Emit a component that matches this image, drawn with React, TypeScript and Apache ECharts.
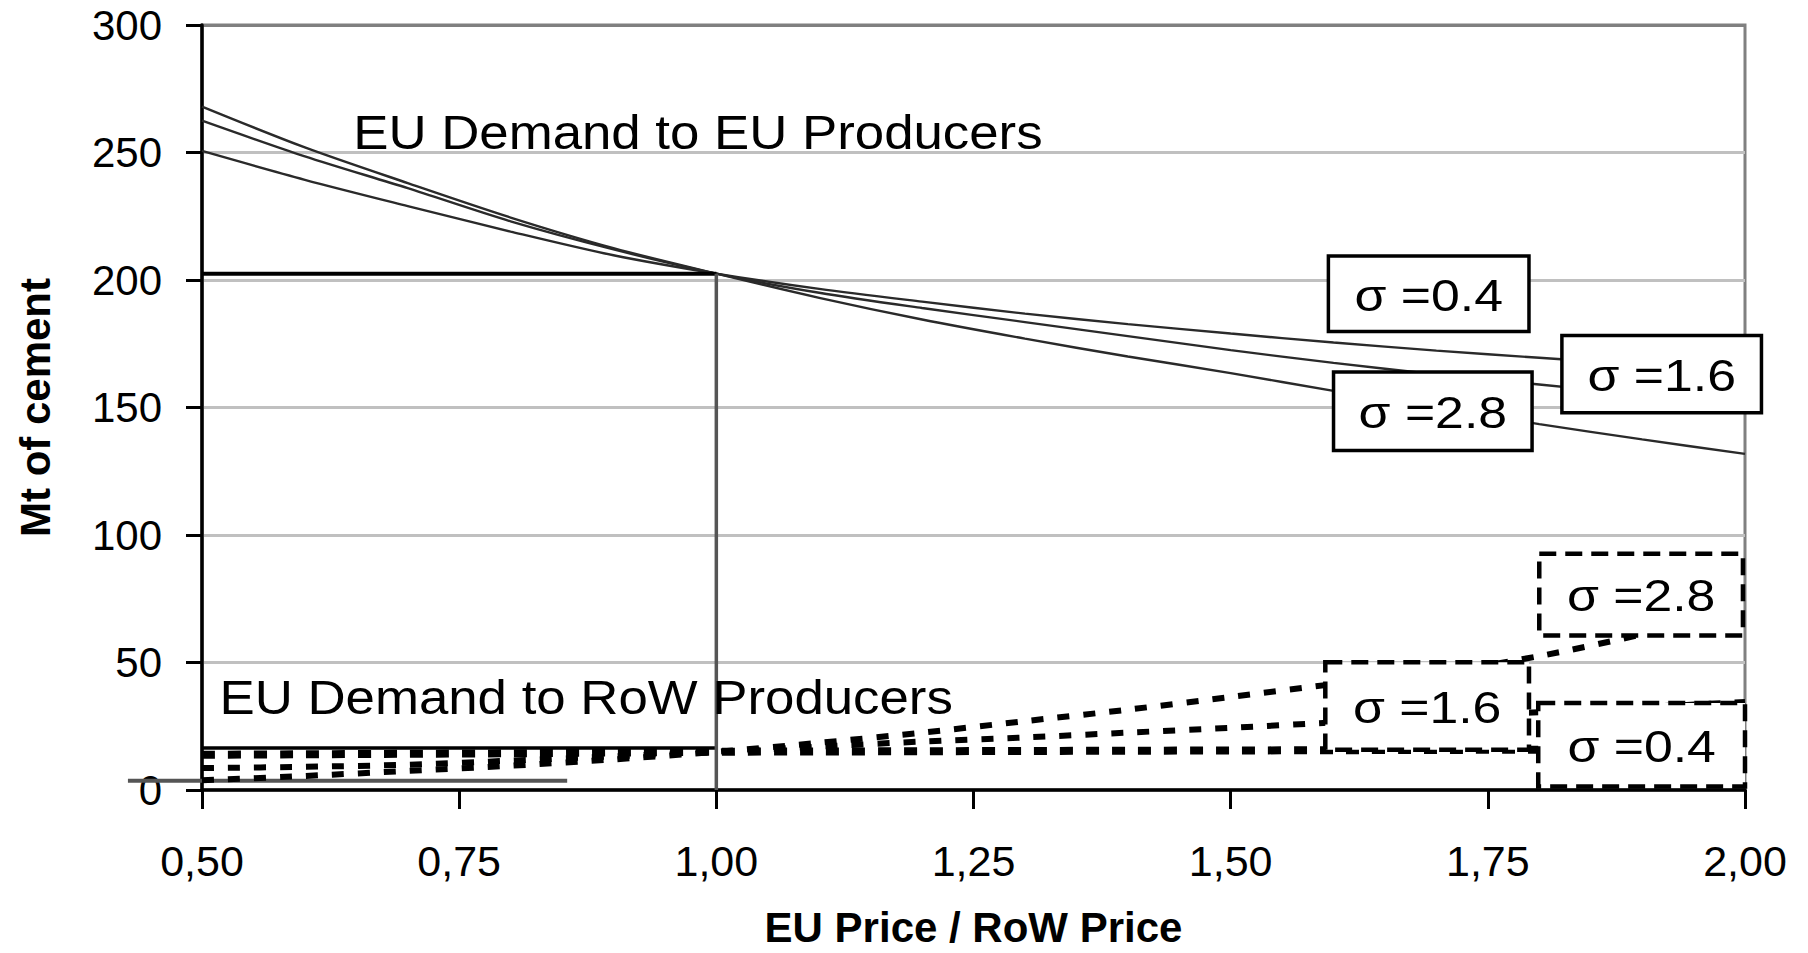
import React, { useEffect, useRef } from "react";
import * as echarts from "echarts";

// ---------- data ----------
const priceRatio = [0.5, 0.6, 0.7, 0.8, 0.9, 1.0, 1.1, 1.2, 1.3, 1.4, 1.5, 1.6, 1.7, 1.8, 1.9, 2.0];

// EU demand to EU producers (Mt)
const euSigma04 = [250.6, 239.3, 229, 219, 209.7, 202.5, 196.5, 191.5, 186.8, 182.7, 179, 175.5, 172.3, 169.5, 166.8, 164.3];
const euSigma16 = [262.5, 248.5, 236, 223, 212, 202.5, 195, 189, 183.5, 178, 172.5, 167.5, 163, 159, 155, 151];
const euSigma28 = [268, 252, 238, 224.5, 212.5, 202.5, 193, 184.5, 177, 170, 163.5, 156.5, 150, 143.5, 137.5, 131.8];

// EU demand to RoW producers (Mt)
const rowSigma04 = [13.8, 14, 14.2, 14.4, 14.7, 15, 15.1, 15.2, 15.3, 15.4, 15.5, 15.6, 15.7, 15.8, 15.9, 16];
const rowSigma16 = [8.6, 9.1, 9.9, 11.5, 13.2, 15, 17, 19, 20.6, 22.5, 24.4, 26.5, 28.5, 30.5, 32.5, 34.5];
const rowSigma28 = [3.8, 5.5, 7.5, 9.5, 12, 15, 18.5, 22.5, 27, 31.5, 36.5, 41.5, 46, 52.5, 61, 70];

// reference point (price ratio 1)
const basePrice = 1.0;
const baseDemandEU = 202.5;
const baseDemandRoW = 16.5;
const strayLineX = [0.428, 0.855];
const strayLineY = 3.6;

// axes
const xTicks = [0.5, 0.75, 1.0, 1.25, 1.5, 1.75, 2.0];
const yTicks = [0, 50, 100, 150, 200, 250, 300];

// annotations (data coordinates)
const curveTitles = [
  { text: "EU Demand to EU Producers", p: 0.647, v: 257.8 },
  { text: "EU Demand to RoW Producers", p: 0.517, v: 36.2 },
];
const sigmaBoxes = [
  { text: "σ =0.4", p0: 1.595, p1: 1.79, v0: 179.8, v1: 209.4, dashed: false },
  { text: "σ =1.6", p0: 1.822, p1: 2.016, v0: 147.9, v1: 178.2, dashed: false },
  { text: "σ =2.8", p0: 1.6, p1: 1.793, v0: 133.1, v1: 163.9, dashed: false },
  { text: "σ =2.8", p0: 1.8, p1: 1.998, v0: 60.6, v1: 92.6, dashed: true },
  { text: "σ =1.6", p0: 1.592, p1: 1.79, v0: 15.8, v1: 50.1, dashed: true },
  { text: "σ =0.4", p0: 1.799, p1: 2.0, v0: 1.4, v1: 34.1, dashed: true },
];

const FONT = "'Liberation Sans', Arial, Helvetica, sans-serif";

const pairs = (ys: number[]) => priceRatio.map((p, i) => [p, ys[i]]);

export default function App() {
  const ref = useRef<HTMLDivElement>(null);

  useEffect(() => {
    document.body.style.margin = "0";
    document.body.style.overflow = "hidden";
    document.documentElement.style.overflow = "hidden";
    if (!ref.current) return;
    const chart = echarts.init(ref.current, null, { renderer: "svg" });

    const euLine = { color: "#2a2a2a", width: 2.4 };
    const rowLine = { color: "#000", width: 6, type: [12, 14] as number[], cap: "butt" as const };
    const rowLineThick = { color: "#000", width: 8, type: [13, 13] as number[], cap: "butt" as const };

    chart.setOption({
      animation: false,
      backgroundColor: "#fff",
      grid: {
        left: 202,
        right: 63,
        top: 25,
        bottom: 157,
        show: true,
        borderColor: "#808080",
        borderWidth: 3,
        containLabel: false,
      },
      xAxis: {
        type: "value",
        min: xTicks[0],
        max: xTicks[xTicks.length - 1],
        interval: 0.25,
        name: "EU Price / RoW Price",
        nameLocation: "middle",
        nameGap: 116,
        nameTextStyle: { fontFamily: FONT, fontWeight: "bold", fontSize: 42, color: "#000" },
        axisLine: { show: true, onZero: false, lineStyle: { color: "#000", width: 3.5 } },
        axisTick: { show: true, inside: false, length: 19, lineStyle: { color: "#000", width: 3 } },
        axisLabel: {
          margin: 49,
          fontFamily: FONT,
          fontSize: 43,
          color: "#000",
          formatter: (v: number) => v.toFixed(2).replace(".", ","),
        },
        splitLine: { show: false },
      },
      yAxis: {
        type: "value",
        min: yTicks[0],
        max: yTicks[yTicks.length - 1],
        interval: 50,
        name: "Mt of cement",
        nameLocation: "middle",
        nameGap: 146,
        nameTextStyle: { fontFamily: FONT, fontWeight: "bold", fontSize: 42, color: "#000" },
        axisLine: { show: true, lineStyle: { color: "#000", width: 3.5 } },
        axisTick: { show: true, inside: false, length: 16, lineStyle: { color: "#000", width: 3 } },
        axisLabel: { margin: 40, fontFamily: FONT, fontSize: 42, color: "#000" },
        splitLine: {
          show: true,
          lineStyle: {
            color: ["#c0c0c0", "#c0c0c0", "#c0c0c0", "#c0c0c0", "#c0c0c0", "#c0c0c0", "#808080"],
            width: 3,
          },
        },
      },
      series: [
        {
          name: "EU σ=0.4",
          type: "line",
          data: pairs(euSigma04),
          smooth: 0.3,
          showSymbol: false,
          lineStyle: euLine,
        },
        {
          name: "EU σ=1.6",
          type: "line",
          data: pairs(euSigma16),
          smooth: 0.3,
          showSymbol: false,
          lineStyle: euLine,
        },
        {
          name: "EU σ=2.8",
          type: "line",
          data: pairs(euSigma28),
          smooth: 0.3,
          showSymbol: false,
          lineStyle: euLine,
        },
        {
          name: "RoW σ=0.4",
          type: "line",
          data: pairs(rowSigma04),
          smooth: 0.3,
          showSymbol: false,
          lineStyle: rowLineThick,
          z: 3,
        },
        {
          name: "RoW σ=1.6",
          type: "line",
          data: pairs(rowSigma16),
          smooth: 0.3,
          showSymbol: false,
          lineStyle: rowLine,
          z: 3,
        },
        {
          name: "RoW σ=2.8",
          type: "line",
          data: pairs(rowSigma28),
          smooth: 0.3,
          showSymbol: false,
          lineStyle: rowLine,
          z: 3,
        },
        {
          name: "base EU",
          type: "line",
          data: [
            [xTicks[0], baseDemandEU],
            [basePrice, baseDemandEU],
          ],
          showSymbol: false,
          lineStyle: { color: "#000", width: 4 },
          z: 4,
        },
        {
          name: "base RoW",
          type: "line",
          data: [
            [xTicks[0], baseDemandRoW],
            [basePrice, baseDemandRoW],
          ],
          showSymbol: false,
          lineStyle: { color: "#000", width: 3.5 },
          z: 4,
        },
        {
          name: "base price",
          type: "line",
          data: [
            [basePrice, 0],
            [basePrice, baseDemandEU],
          ],
          showSymbol: false,
          lineStyle: { color: "#555", width: 3.5 },
          z: 4,
        },
      ],
    });

    const toPx = (p: number, v: number) =>
      chart.convertToPixel({ xAxisIndex: 0, yAxisIndex: 0 }, [p, v]) as number[];

    const graphics: any[] = [];
    const [sx0, sy] = toPx(strayLineX[0], strayLineY);
    const [sx1] = toPx(strayLineX[1], strayLineY);
    graphics.push({
      type: "line",
      z: 1,
      shape: { x1: sx0, y1: sy, x2: sx1, y2: sy },
      style: { stroke: "#555", lineWidth: 4 },
    });
    curveTitles.forEach((t) => {
      const [x, y] = toPx(t.p, t.v);
      graphics.push({
        type: "text",
        x,
        y,
        scaleX: 1.1,
        z: 20,
        style: {
          text: t.text,
          fontFamily: FONT,
          fontSize: 48,
          fill: "#000",
          align: "left",
          verticalAlign: "middle",
        },
      });
    });
    sigmaBoxes.forEach((b) => {
      const [x0, y1] = toPx(b.p0, b.v1);
      const [x1, y0] = toPx(b.p1, b.v0);
      graphics.push({
        type: "rect",
        z: 30,
        shape: { x: x0, y: y1, width: x1 - x0, height: y0 - y1 },
        style: {
          fill: "#fff",
          stroke: "#000",
          lineWidth: b.dashed ? 4.5 : 3.5,
          lineDash: b.dashed ? [17, 9] : null,
        },
      });
      graphics.push({
        type: "text",
        x: (x0 + x1) / 2,
        y: (y0 + y1) / 2 + 1,
        scaleX: 1.15,
        z: 31,
        style: {
          text: b.text,
          fontFamily: FONT,
          fontSize: 45,
          fill: "#000",
          align: "center",
          verticalAlign: "middle",
        },
      });
    });
    chart.setOption({ graphic: graphics });

    return () => chart.dispose();
  }, []);

  return (
    <div
      ref={ref}
      style={{ position: "fixed", left: 0, top: 0, width: 1808, height: 953, overflow: "hidden" }}
    />
  );
}
